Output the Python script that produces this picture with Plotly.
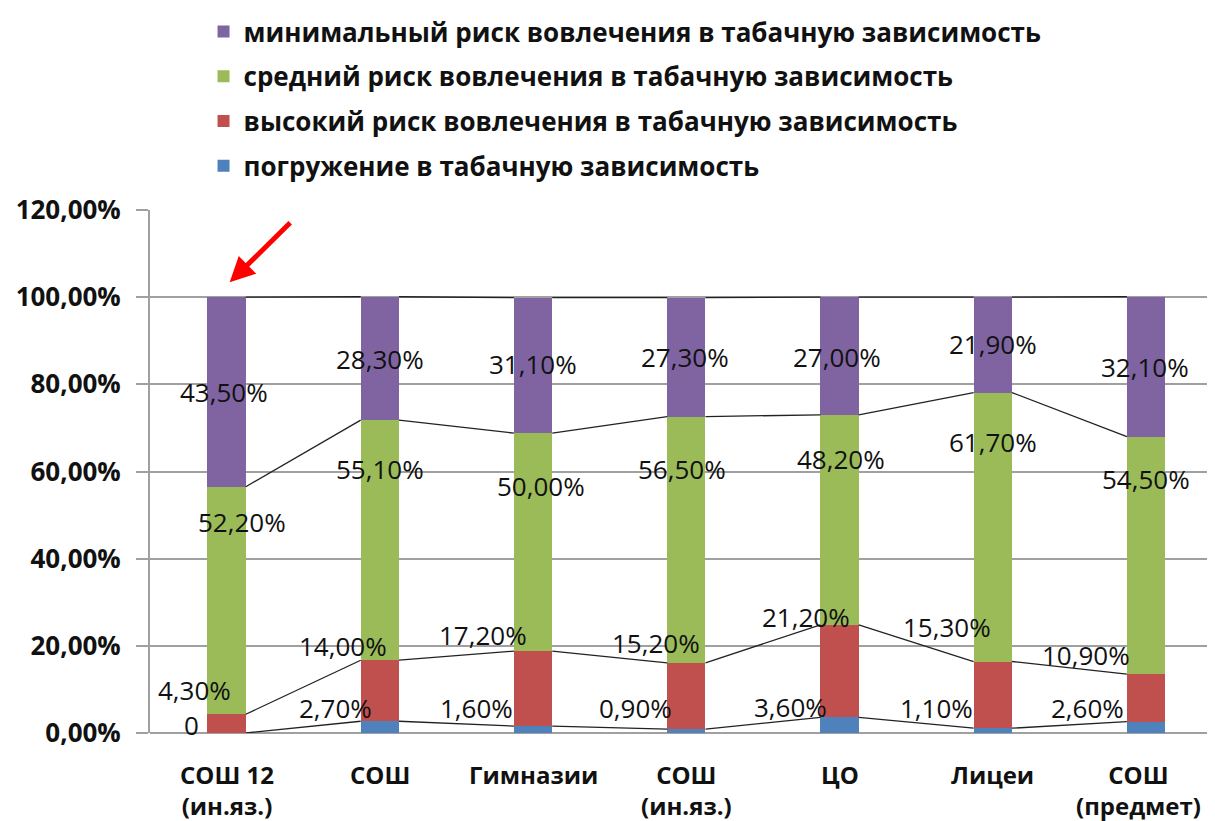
import plotly.graph_objects as go

categories = ["СОШ 12<br>(ин.яз.)", "СОШ", "Гимназии", "СОШ<br>(ин.яз.)", "ЦО", "Лицеи", "СОШ<br>(предмет)"]

series_names = [
    "погружение в табачную зависимость",
    "высокий риск вовлечения в табачную зависимость",
    "средний риск вовлечения в табачную зависимость",
    "минимальный риск вовлечения в табачную зависимость",
]
immersion = [0.0, 2.7, 1.6, 0.9, 3.6, 1.1, 2.6]
high_risk = [4.3, 14.0, 17.2, 15.2, 21.2, 15.3, 10.9]
medium_risk = [52.2, 55.1, 50.0, 56.5, 48.2, 61.7, 54.5]
minimal_risk = [43.5, 28.3, 31.1, 27.3, 27.0, 21.9, 32.1]

y_ticks = [0, 20, 40, 60, 80, 100, 120]
y_tick_text = ["0,00%", "20,00%", "40,00%", "60,00%", "80,00%", "100,00%", "120,00%"]

# ---- styling / layout constants (not data) ----
colors = ["#4F81BD", "#C0504D", "#9BBB59", "#8064A2"]
BAR_W = 0.25
FONT = "Open Sans, Roboto, Noto Sans, sans-serif"
# data-label placements (x offset from bar centre, y position in %)
label_dx = [
    [-0.23, -0.29, -0.37, -0.33, -0.32, -0.37, -0.38],
    [-0.21, -0.24, -0.33, -0.20, -0.22, -0.30, -0.39],
    [0.10, 0.0, 0.05, -0.03, 0.01, 0.0, 0.0],
    [-0.02, 0.0, 0.0, -0.01, -0.02, 0.0, -0.01],
]
label_y = [
    [1.8, 5.7, 5.7, 5.7, 5.9, 5.7, 5.7],
    [9.9, 20.0, 22.5, 20.7, 26.7, 24.4, 17.9],
    [48.3, 60.5, 56.6, 60.5, 62.8, 66.7, 58.2],
    [78.2, 85.7, 84.6, 86.2, 86.2, 89.2, 83.9],
]
# horizontal pixel nudges for category labels (keep the last one inside the page)
cat_xshift = [0, 0, 0, 0, 0, 0, -8]

series = [immersion, high_risk, medium_risk, minimal_risk]
xs = list(range(len(categories)))

fig = go.Figure()
for k, (name, vals) in enumerate(zip(series_names, series)):
    fig.add_trace(go.Bar(
        x=xs, y=vals, name=name, width=BAR_W,
        marker=dict(color=colors[k], line=dict(width=0)),
        legendgroup=str(k), legendrank=(len(series) - k) * 100,
    ))

# series lines connecting segment tops
cum = [0.0] * len(xs)
for vals in series:
    cum = [c + v for c, v in zip(cum, vals)]
    lx, ly = [], []
    for i in range(len(xs) - 1):
        lx += [xs[i] + BAR_W / 2, xs[i + 1] - BAR_W / 2, None]
        ly += [cum[i], cum[i + 1], None]
    fig.add_trace(go.Scatter(x=lx, y=ly, mode="lines", showlegend=False,
                             line=dict(color="#222222", width=1.3), hoverinfo="skip"))

def fmt(v):
    if v == 0:
        return "0"
    return f"{v:.2f}%".replace(".", ",")

annotations = []
for k, vals in enumerate(series):
    for i, v in enumerate(vals):
        annotations.append(dict(
            x=xs[i] + label_dx[k][i], y=label_y[k][i], text=fmt(v),
            showarrow=False, xanchor="center", yanchor="middle",
            font=dict(family=FONT, size=26, color="#111111"),
        ))

# category labels
for i, c in enumerate(categories):
    annotations.append(dict(
        x=xs[i], y=0, text=c, showarrow=False, xanchor="center", yanchor="top",
        yshift=-23, xshift=cat_xshift[i],
        font=dict(family=FONT, size=24, color="#111111", weight="bold"),
    ))

# red arrow pointing to first bar
annotations.append(dict(
    x=0.02, y=103.4, ax=62, ay=-61, text="", showarrow=True,
    arrowhead=2, arrowsize=1.0, arrowwidth=5, arrowcolor="#FF0000",
))

fig.update_layout(
    width=1207, height=813,
    margin=dict(l=142, r=0, t=202, b=88, autoexpand=False),
    paper_bgcolor="white", plot_bgcolor="white",
    barmode="stack",
    font=dict(family=FONT, color="#111111"),
    legend=dict(
        traceorder="grouped", orientation="v",
        xref="container", yref="container",
        x=0.162, y=1.018, xanchor="left", yanchor="top",
        font=dict(family=FONT, size=26, color="#111111", weight="bold"),
        tracegroupgap=8, itemwidth=30,
    ),
    annotations=annotations,
    showlegend=True,
)
fig.update_xaxes(
    tickmode="array", tickvals=xs, showticklabels=False,
    range=[-0.5, 6.45], showgrid=False, zeroline=False,
    showline=False, ticks="",
)
fig.update_yaxes(
    range=[0, 120], tickmode="array", tickvals=y_ticks, ticktext=y_tick_text,
    showgrid=True, gridcolor="#A0A0A0", gridwidth=1.5,
    zeroline=True, zerolinecolor="#A0A0A0", zerolinewidth=1.5,
    showline=True, linecolor="#A0A0A0", linewidth=2,
    ticks="outside", ticklen=12, tickcolor="#A0A0A0", tickwidth=1.5,
    ticklabelstandoff=10,
    tickfont=dict(family=FONT, size=26, color="#111111", weight="bold"),
)

fig.write_html("out.html")
